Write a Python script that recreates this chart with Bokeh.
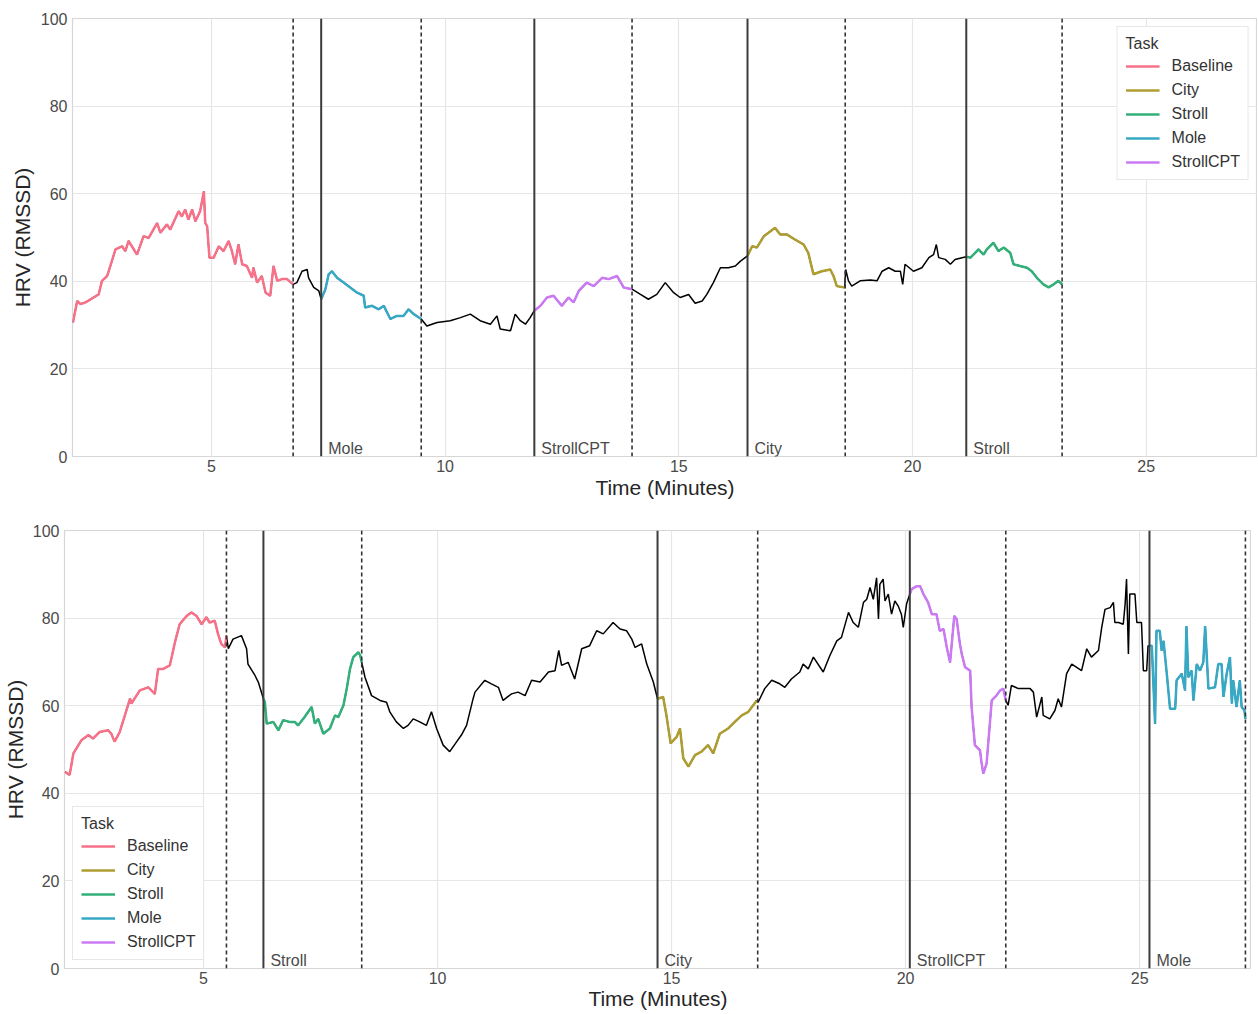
from bokeh.plotting import figure
from bokeh.models import Span, Label, Legend, LegendItem, FixedTicker, Range1d
from bokeh.embed import file_html
from bokeh.resources import INLINE

TASKS = ["Baseline", "City", "Stroll", "Mole", "StrollCPT"]
TASK_COLORS = ["#f77189", "#ae9d31", "#33b07a", "#38a9c5", "#cc7af4"]
X_TICKS = [5, 10, 15, 20, 25]
Y_TICKS = [0, 20, 40, 60, 80, 100]

# ---------------- top session ----------------
top_t = [2.04, 2.13, 2.2, 2.31, 2.48, 2.59, 2.66, 2.77, 2.84, 2.95,
         3.09, 3.16, 3.23, 3.41, 3.55, 3.66, 3.84, 3.91, 4.05, 4.12,
         4.30, 4.37, 4.44, 4.51, 4.59, 4.66, 4.76, 4.84, 4.87, 4.91,
         4.96, 5.05, 5.16, 5.26, 5.37, 5.44, 5.51, 5.58, 5.66, 5.76,
         5.87, 5.90, 5.98, 6.08, 6.16, 6.26, 6.33, 6.41, 6.51, 6.62, 6.75,
         6.83, 6.94, 7.05, 7.08, 7.19, 7.30, 7.35,
         7.44, 7.51, 7.58, 7.69, 7.83, 7.97, 8.12, 8.26, 8.29, 8.44, 8.58, 8.69,
         8.83, 8.97, 9.11, 9.22, 9.33, 9.49,
         9.61, 9.83, 10.11, 10.33, 10.54, 10.75, 10.97, 11.11, 11.18, 11.40,
         11.50, 11.61, 11.72, 11.82, 11.91,
         12.04, 12.18, 12.32, 12.50, 12.64, 12.75, 12.86, 13.03, 13.18, 13.36,
         13.50, 13.68, 13.82, 14.0,
         14.18, 14.35, 14.53, 14.71, 14.89, 15.03, 15.21, 15.35, 15.50, 15.60,
         15.74, 15.89, 16.06, 16.21, 16.32, 16.47,
         16.57, 16.67, 16.82, 16.92, 17.06, 17.17, 17.31, 17.49, 17.67, 17.77,
         17.88, 18.06, 18.24, 18.31, 18.38, 18.55,
         18.57, 18.63, 18.70, 18.88, 19.10, 19.24, 19.35, 19.49, 19.63, 19.74,
         19.79, 19.84, 20.02, 20.20, 20.35, 20.45, 20.51, 20.56, 20.70, 20.81,
         20.91, 21.06, 21.15,
         21.24, 21.34, 21.41, 21.52, 21.59, 21.73, 21.84, 21.95, 22.09, 22.16,
         22.30, 22.45, 22.55, 22.66, 22.80, 22.91, 23.02, 23.12, 23.2]
top_v = [30.6, 35.5, 34.8, 35.2, 36.3, 37.0, 40.1, 41.2, 43.5, 47.3,
         48.0, 46.9, 49.2, 46.1, 50.3, 49.9, 53.3, 51.1, 53.0, 51.8,
         56.0, 54.8, 56.4, 54.1, 56.4, 53.7, 56.0, 60.5, 53.3, 52.6,
         45.4, 45.4, 48.0, 46.9, 49.2, 46.9, 43.9, 48.4, 43.9, 43.5,
         40.8, 43.1, 39.7, 41.2, 37.4, 36.7, 43.5, 40.1, 40.5, 40.5, 39.3,
         39.7, 42.3, 42.7, 40.8, 38.6, 37.8, 35.9,
         38.2, 41.6, 42.3, 40.8, 39.7, 38.6, 37.4, 36.7, 34.0, 34.4, 33.6, 34.4,
         31.4, 32.1, 32.1, 33.6, 32.5, 31.4,
         29.8, 30.6, 31.0, 31.7, 32.5, 31.0, 30.2, 32.1, 29.1, 28.7,
         32.5, 31.0, 30.2, 31.7, 33.3,
         34.4, 36.3, 36.7, 34.4, 36.3, 35.2, 37.8, 39.7, 38.9, 40.8,
         40.5, 41.2, 38.6, 38.2,
         37.0, 35.9, 37.0, 39.7, 37.4, 36.3, 37.0, 35.0, 35.5, 37.0,
         39.7, 43.1, 43.1, 43.5, 44.6, 45.8,
         48.0, 47.7, 50.3, 51.1, 52.2, 50.7, 50.7, 49.5, 48.4, 46.5,
         41.6, 42.3, 42.7, 41.2, 38.9, 38.6,
         42.7, 40.1, 38.9, 40.1, 40.3, 40.1, 42.3, 43.1, 42.3, 42.3,
         39.3, 43.9, 42.3, 43.1, 45.4, 46.1, 48.4, 45.4, 45.0, 43.9,
         45.0, 45.4, 45.6,
         45.4, 46.5, 47.3, 46.1, 47.3, 48.8, 46.9, 47.7, 46.5, 43.9,
         43.5, 43.1, 42.3, 40.8, 39.3, 38.6, 39.3, 40.1, 39.3]
top_baseline_end = 6.75
top_tasks = ["Mole", "StrollCPT", "City", "Stroll"]
top_starts = [7.35, 11.91, 16.47, 21.15]
top_ends = [9.49, 14.0, 18.56, 23.2]

# ---------------- bottom session ----------------
bot_t = [2.04, 2.14, 2.22, 2.39, 2.54, 2.64, 2.78, 2.96, 3.03, 3.10,
         3.21, 3.32, 3.43, 3.46, 3.64, 3.82, 3.96, 4.03, 4.14, 4.28,
         4.39, 4.49, 4.64, 4.74, 4.85, 4.96, 5.06, 5.13, 5.24, 5.31, 5.38, 5.46,
         5.49, 5.53, 5.63, 5.81, 5.92, 5.95, 6.10, 6.17, 6.28,
         6.31, 6.35, 6.49, 6.60, 6.70, 6.84, 6.95, 7.02, 7.16, 7.31,
         7.38, 7.45, 7.56, 7.70, 7.81, 7.88, 7.99, 8.06, 8.13, 8.20, 8.31, 8.35,
         8.38, 8.45, 8.59, 8.77, 8.91, 8.98, 9.12, 9.27, 9.37, 9.48,
         9.62, 9.76, 9.87, 9.98, 10.12, 10.26, 10.41, 10.51, 10.62, 10.76,
         10.80, 11.01, 11.15, 11.30, 11.40, 11.58, 11.72, 11.87, 12.01, 12.19,
         12.37, 12.51, 12.59, 12.65, 12.79, 12.93, 13.08, 13.25, 13.40, 13.54,
         13.75, 13.90, 14.04, 14.15, 14.22, 14.36, 14.47, 14.61, 14.70,
         14.82, 14.89, 14.98, 15.11, 15.18, 15.25, 15.36, 15.50, 15.64, 15.78,
         15.89, 16.03, 16.21, 16.35, 16.50, 16.64, 16.82,
         16.85, 16.99, 17.14, 17.31, 17.42, 17.56, 17.74, 17.81, 17.92, 18.03,
         18.24, 18.38, 18.53, 18.63, 18.78, 18.88, 18.99, 19.10, 19.17, 19.24,
         19.31, 19.38, 19.42, 19.45, 19.52, 19.56, 19.63, 19.70, 19.77, 19.84,
         19.91, 19.95, 20.02, 20.09,
         20.13, 20.24, 20.31, 20.38, 20.48, 20.56, 20.66, 20.73, 20.81, 20.88,
         20.95, 21.04, 21.09, 21.16, 21.20, 21.27, 21.38, 21.41, 21.48, 21.59,
         21.62, 21.66, 21.73, 21.80, 21.84, 21.94, 22.02, 22.09,
         22.14, 22.19, 22.26, 22.41, 22.55, 22.66, 22.73, 22.80, 22.91, 22.94,
         23.08, 23.19, 23.26, 23.33, 23.44, 23.55, 23.76, 23.87, 23.97, 24.12,
         24.19, 24.26, 24.37, 24.44, 24.47, 24.55, 24.65, 24.69, 24.72, 24.76,
         24.79, 24.90, 24.94, 25.04, 25.08, 25.15, 25.18, 25.22,
         25.26, 25.33, 25.36, 25.43, 25.47, 25.51, 25.58, 25.65, 25.76, 25.79,
         25.90, 25.97, 26.00, 26.04, 26.11, 26.15, 26.22, 26.29, 26.36, 26.40,
         26.47, 26.61, 26.68, 26.75, 26.79, 26.86, 26.93, 26.97, 27.00, 27.07,
         27.14, 27.18, 27.24, 27.26]
bot_v = [44.9, 44.2, 49.1, 52.1, 53.3, 52.5, 54.0, 54.4, 53.6, 51.8,
         54.0, 57.8, 61.6, 60.5, 63.5, 64.2, 62.7, 68.4, 68.4, 69.2,
         74.5, 78.6, 80.5, 81.3, 80.5, 78.6, 80.2, 79.0, 79.4, 76.4, 74.1, 73.3,
         76.0, 73.0, 75.2, 76.0, 73.0, 69.5, 66.9, 65.4, 61.6,
         60.8, 55.9, 56.3, 54.4, 56.7, 56.3, 56.3, 55.5, 57.4, 59.7,
         55.9, 57.0, 53.6, 54.8, 57.8, 57.4, 60.1, 63.9, 68.4, 71.1, 72.2, 71.4,
         69.9, 66.5, 62.3, 61.2, 60.8, 58.6, 56.3, 54.8, 55.5, 57.0,
         56.3, 55.5, 58.6, 54.8, 51.0, 49.5, 51.8, 53.3, 55.5, 61.6,
         63.1, 65.8, 65.0, 64.2, 61.2, 62.7, 63.1, 62.3, 65.8, 65.4,
         67.7, 68.0, 72.6, 69.2, 69.9, 66.1, 73.0, 73.7, 77.1, 76.4,
         79.0, 77.5, 77.1, 75.2, 73.3, 74.1, 69.5, 65.4, 61.6,
         62.0, 57.8, 51.4, 52.9, 54.8, 48.0, 46.1, 48.7, 49.5, 51.0,
         49.1, 53.6, 54.8, 56.3, 57.8, 58.6, 61.2,
         60.8, 63.9, 65.8, 65.0, 64.2, 66.1, 67.7, 69.5, 68.4, 71.1,
         67.7, 71.4, 74.8, 75.6, 81.3, 79.0, 77.9, 83.6, 84.3, 87.0,
         84.3, 89.2, 79.8, 87.7, 88.9, 83.9, 85.5, 80.9, 83.9, 82.8,
         80.9, 77.9, 83.2, 85.5,
         86.6, 87.3, 87.3, 85.5, 83.6, 80.9, 80.9, 77.1, 77.5, 73.3,
         69.9, 80.5, 79.8, 74.1, 71.8, 68.8, 68.0, 59.7, 51.0, 49.8,
         47.2, 44.5, 46.8, 55.9, 61.2, 62.3, 63.5, 63.9,
         61.2, 60.1, 64.6, 63.9, 63.9, 63.9, 63.1, 57.4, 62.0, 57.8,
         57.0, 58.9, 61.6, 59.7, 67.3, 69.5, 68.0, 73.0, 71.1, 72.6,
         77.9, 82.0, 82.4, 83.6, 79.0, 79.0, 78.6, 83.2, 88.9, 71.8,
         85.5, 85.5, 79.0, 79.0, 68.0, 68.0, 73.7, 73.7,
         73.7, 55.9, 77.1, 77.1, 72.6, 74.8, 67.3, 59.3, 59.3, 65.8,
         67.3, 63.5, 78.2, 66.5, 68.0, 61.2, 69.5, 68.0, 69.9, 78.2,
         63.9, 64.2, 69.5, 69.5, 62.0, 67.3, 71.1, 60.5, 65.8, 59.7,
         65.8, 59.7, 58.9, 57.0]
bot_baseline_end = 5.49
bot_tasks = ["Stroll", "City", "StrollCPT", "Mole"]
bot_starts = [6.28, 14.70, 20.09, 25.21]
bot_ends = [8.38, 16.84, 22.14, 27.26]

FONT = "Liberation Sans"


def make_fig(t, v, baseline_end, tasks, starts, ends, x_start, x_end,
             frame_w, frame_h, border_left, border_top, legend_loc,
             tick_standoff, label_standoff, ylabel_standoff):
    p = figure(frame_width=frame_w, frame_height=frame_h,
               x_range=Range1d(x_start, x_end), y_range=Range1d(0, 100),
               output_backend="svg", toolbar_location=None,
               min_border_left=border_left, min_border_right=0,
               min_border_top=border_top, min_border_bottom=0,
               background_fill_color="white", border_fill_color="white")
    p.outline_line_color = "#d6d6d6"
    p.outline_line_width = 1.2
    p.xgrid.grid_line_color = "#e6e6e6"
    p.ygrid.grid_line_color = "#e6e6e6"
    p.xgrid.grid_line_width = 1.2
    p.ygrid.grid_line_width = 1.2
    p.xaxis.ticker = FixedTicker(ticks=X_TICKS)
    p.yaxis.ticker = FixedTicker(ticks=Y_TICKS)
    for ax in (p.xaxis[0], p.yaxis[0]):
        ax.axis_line_color = None
        ax.major_tick_line_color = None
        ax.minor_tick_line_color = None
        ax.major_tick_out = 0
        ax.major_tick_in = 0
        ax.major_label_text_font = FONT
        ax.major_label_text_font_size = "16px"
        ax.major_label_text_color = "#4a4a4a"
        ax.axis_label_text_font = FONT
        ax.axis_label_text_font_size = "21px"
        ax.axis_label_text_font_style = "normal"
        ax.axis_label_text_color = "#262626"
    p.xaxis.axis_label = "Time (Minutes)"
    p.yaxis.axis_label = "HRV (RMSSD)"
    p.xaxis.major_label_standoff = tick_standoff
    p.xaxis.axis_label_standoff = label_standoff
    p.yaxis.major_label_standoff = 5
    p.yaxis.axis_label_standoff = ylabel_standoff

    # full trace in black
    p.line(t, v, line_color="black", line_width=1.5)

    # coloured task segments
    first_renderer = {}
    segs = [("Baseline", t[0], baseline_end)] + list(zip(tasks, starts, ends))
    for name, s, e in segs:
        xs = [a for a, b in zip(t, v) if s <= a <= e]
        ys = [b for a, b in zip(t, v) if s <= a <= e]
        col = TASK_COLORS[TASKS.index(name)]
        r = p.line(xs, ys, line_color=col, line_width=2.5)
        first_renderer.setdefault(name, r)

    # vertical markers
    p.add_layout(Span(location=baseline_end, dimension="height",
                      line_color="#333333", line_width=1.6, line_dash="4 3"))
    for name, s, e in zip(tasks, starts, ends):
        p.add_layout(Span(location=s, dimension="height",
                          line_color="#3c3c3c", line_width=2.0))
        p.add_layout(Span(location=e, dimension="height",
                          line_color="#333333", line_width=1.6, line_dash="4 3"))
        p.add_layout(Label(x=s, y=0, x_offset=7, y_offset=0, text=name,
                           text_font=FONT, text_font_size="16px",
                           text_color="#4a4a4a", text_baseline="bottom"))

    items = [LegendItem(label=n, renderers=[first_renderer[n]]) for n in TASKS
             if n in first_renderer]
    legend = Legend(items=items, title="Task", location=legend_loc,
                    label_text_font=FONT, label_text_font_size="16px",
                    label_text_color="#333333",
                    title_text_font=FONT, title_text_font_size="16px",
                    title_text_font_style="normal", title_text_color="#333333",
                    border_line_color="#d0d0d0", border_line_width=1,
                    background_fill_color="white", background_fill_alpha=1.0,
                    glyph_width=34, glyph_height=18, label_height=18,
                    spacing=6, padding=8, label_standoff=12, margin=8,
                    title_standoff=4)
    p.add_layout(legend)
    return p


p1 = make_fig(top_t, top_v, top_baseline_end, top_tasks, top_starts, top_ends,
              2.03, 27.38, 1185, 438, 72, 18, "top_right", 3, 1, 4)
p2 = make_fig(bot_t, bot_v, bot_baseline_end, bot_tasks, bot_starts, bot_ends,
              2.03, 27.39, 1187, 438, 63, 29, "bottom_left", 3, 0, 3)

open("out.html", "w").write(file_html([p1, p2], INLINE))
